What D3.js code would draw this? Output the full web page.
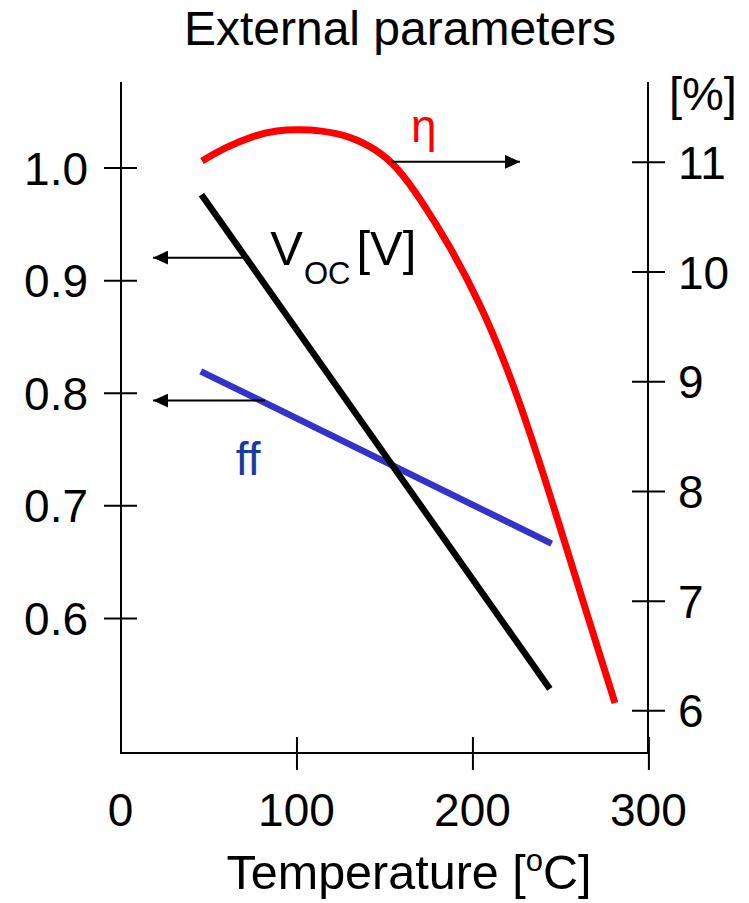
<!DOCTYPE html>
<html>
<head>
<meta charset="utf-8">
<script src="https://cdn.jsdelivr.net/npm/d3@7"></script>
<style>
  html, body { margin: 0; padding: 0; background: #fff; }
  svg text { font-family: "Liberation Sans", Arial, Helvetica, sans-serif; }
</style>
</head>
<body>
<svg id="chart" width="749" height="903"></svg>
<script>
// ---- data ----
const xTicks = [100, 200, 300];
const xTickLabels = ["0", "100", "200", "300"];
const xTickLabelValues = [0, 100, 200, 300];
const leftTicks = [0.6, 0.7, 0.8, 0.9, 1.0];
const leftTickLabels = ["0.6", "0.7", "0.8", "0.9", "1.0"];
const rightTicks = [6, 7, 8, 9, 10, 11];
const rightTickLabels = ["6", "7", "8", "9", "10", "11"];

const vocT = [46, 244];
const vocV = [0.976, 0.537];
const ffT = [45.6, 245];
const ffV = [0.819, 0.666];
const etaT = [46.3, 59.4, 76.5, 88.8, 101.0, 113.4, 130.4, 145.7, 157.1, 170.2, 187.2, 204.3, 218.5, 232.7, 249.7, 266.8, 281.0];
const etaV = [11.008, 11.13, 11.245, 11.286, 11.294, 11.288, 11.236, 11.11, 10.956, 10.670, 10.232, 9.712, 9.176, 8.538, 7.677, 6.788, 6.067];

// annotation arrows (axis they refer to, y value, from-x, to-x in data units)
const arrowAxis = ["left", "left", "right"];
const arrowY = [0.92, 0.793, 11.0];
const arrowFrom = [71.6, 82.1, 154.1];
const arrowTo = [18.5, 18.5, 227];

// ---- layout ----
const L = 121, R = 648, T = 82, B = 753;
const svg = d3.select("#chart");

const x = d3.scaleLinear().domain([0, 300]).range([120.5, 648.4]);
const yL = d3.scaleLinear().domain([0.48, 1.076]).range([B, T]);
const yR = d3.scaleLinear().domain([5.611, 11.728]).range([B, T]);

const FS = 46;

// title
svg.append("text").attr("x", 400).attr("y", 45).attr("text-anchor", "middle")
  .attr("font-size", 48).attr("fill", "#000").text("External parameters");

// axes lines
const axisG = svg.append("g").attr("stroke", "#000").attr("stroke-width", 2).attr("fill", "none");
axisG.append("path").attr("d", `M${L},${T}V${B}H${R}`);
axisG.append("path").attr("d", `M${R},${T}V${B}`);

// left axis
const gl = svg.append("g").attr("transform", `translate(${L},0)`)
  .call(d3.axisLeft(yL).tickValues(leftTicks).tickFormat((d, i) => leftTickLabels[i]).tickSize(0).tickPadding(0));
gl.select(".domain").remove();
gl.selectAll(".tick line").attr("x1", -17).attr("x2", 16).attr("stroke", "#000").attr("stroke-width", 2);
gl.selectAll(".tick text").attr("x", -33).attr("dy", "0.36em").attr("font-size", FS)
  .attr("font-family", "Liberation Sans, Arial, sans-serif").attr("fill", "#000");

// right axis
const gr = svg.append("g").attr("transform", `translate(${R},0)`)
  .call(d3.axisRight(yR).tickValues(rightTicks).tickFormat((d, i) => rightTickLabels[i]).tickSize(0).tickPadding(0));
gr.select(".domain").remove();
gr.selectAll(".tick line").attr("x1", -16).attr("x2", 17).attr("stroke", "#000").attr("stroke-width", 2);
gr.selectAll(".tick text").attr("x", 30).attr("dy", "0.36em").attr("font-size", FS)
  .attr("font-family", "Liberation Sans, Arial, sans-serif").attr("fill", "#000");

svg.append("text").attr("x", 669).attr("y", 110).attr("font-size", 47).text("[%]");

// bottom axis
const gb = svg.append("g").attr("transform", `translate(0,${B})`)
  .call(d3.axisBottom(x).tickValues(xTicks).tickFormat("").tickSize(0));
gb.select(".domain").remove();
gb.selectAll(".tick line").attr("y1", -16).attr("y2", 17).attr("stroke", "#000").attr("stroke-width", 2);

svg.append("g").selectAll("text").data(xTickLabelValues).join("text")
  .attr("x", d => x(d)).attr("y", 826).attr("text-anchor", "middle")
  .attr("font-size", FS).text((d, i) => xTickLabels[i]);

// x label
const xl = svg.append("text").attr("x", 409).attr("y", 889).attr("text-anchor", "middle").attr("font-size", 48.5);
xl.append("tspan").text("Temperature [");
xl.append("tspan").attr("font-size", 31).attr("dy", -18).text("o");
xl.append("tspan").attr("dy", 18).text("C]");

// lines
const lineL = d3.line().x(d => x(d[0])).y(d => yL(d[1]));
const lineR = d3.line().x(d => x(d[0])).y(d => yR(d[1])).curve(d3.curveBasis);

svg.append("path").datum(d3.zip(ffT, ffV)).attr("d", lineL)
  .attr("fill", "none").attr("stroke", "#3333cc").attr("stroke-width", 6.5);
svg.append("path").datum(d3.zip(vocT, vocV)).attr("d", lineL)
  .attr("fill", "none").attr("stroke", "#000").attr("stroke-width", 6.5);
svg.append("path").datum(d3.zip(etaT, etaV)).attr("d", lineR)
  .attr("fill", "none").attr("stroke", "#ff0000").attr("stroke-width", 7);

// arrows
const defs = svg.append("defs");
defs.append("marker").attr("id", "ah").attr("viewBox", "0 0 15 14")
  .attr("refX", 15).attr("refY", 7).attr("markerWidth", 15).attr("markerHeight", 14)
  .attr("markerUnits", "userSpaceOnUse").attr("orient", "auto")
  .append("path").attr("d", "M0,0L15,7L0,14Z").attr("fill", "#000");

svg.append("g").selectAll("line").data(arrowY).join("line")
  .attr("x1", (d, i) => x(arrowFrom[i]))
  .attr("x2", (d, i) => x(arrowTo[i]))
  .attr("y1", (d, i) => (arrowAxis[i] === "left" ? yL(d) : yR(d)))
  .attr("y2", (d, i) => (arrowAxis[i] === "left" ? yL(d) : yR(d)))
  .attr("stroke", "#000").attr("stroke-width", 2).attr("marker-end", "url(#ah)");

// labels
svg.append("text").attr("x", x(172.4)).attr("y", yR(11.18)).attr("text-anchor", "middle")
  .attr("font-size", FS).attr("fill", "#ff0000").text("η");

const vl = svg.append("text").attr("x", x(85.1)).attr("y", yL(0.9136)).attr("font-size", 49).attr("fill", "#000");
vl.append("tspan").text("V");
vl.append("tspan").attr("font-size", 31).attr("dy", 19).attr("dx", 1).text("OC");
vl.append("tspan").attr("dy", -19).attr("dx", 6).text("[V]");

svg.append("text").attr("x", x(72.5)).attr("y", yL(0.7266)).attr("text-anchor", "middle")
  .attr("font-size", FS).attr("fill", "#1a3a9e").text("ff");
</script>
</body>
</html>
